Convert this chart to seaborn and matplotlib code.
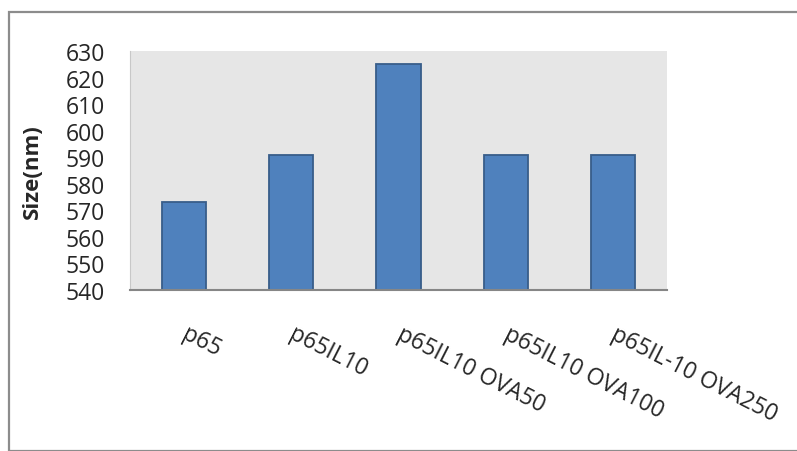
import matplotlib
matplotlib.use("Agg")
import matplotlib.pyplot as plt
import matplotlib.transforms as mtransforms
from matplotlib.patches import Rectangle
import seaborn as sns

# Particle size per formulation
categories = ["p65", "p65IL10", "p65IL10 OVA50", "p65IL10 OVA100", "p65IL-10 OVA250"]
sizes_nm = [573, 591, 625, 591, 591]
y_ticks = [540, 550, 560, 570, 580, 590, 600, 610, 620, 630]

sns.set_theme(style="white")
plt.rcParams["font.family"] = ["Open Sans", "DejaVu Sans"]

DPI = 100
fig = plt.figure(figsize=(7.97, 4.52), dpi=DPI)
W, H = 797, 452

# Outer chart frame (runs off the right and bottom edges)
fig.patches.append(Rectangle((9 / W, 0), 1.0, 1 - 13 / H, transform=fig.transFigure,
                             fill=False, edgecolor="#8c8c8c", linewidth=1.6, clip_on=False))

ax = fig.add_axes([130 / W, 1 - 291 / H, (667 - 130) / W, (291 - 52) / H])
ax.set_facecolor("#e6e6e6")

sns.barplot(x=categories, y=sizes_nm, color="#4f81bd", saturation=1, width=0.41,
            edgecolor="#385d8a", linewidth=1.3, ax=ax)

ax.set_ylim(540, 630)
ax.set_yticks(y_ticks)
ax.set_yticklabels([str(v) for v in y_ticks], fontsize=16.5)
ax.tick_params(axis="y", length=0, pad=18)
ax.tick_params(axis="x", length=0, pad=0)

ax.set_xlabel("")
ax.set_ylabel("Size(nm)", fontsize=16, fontweight="bold")
ax.yaxis.set_label_coords(-0.163, 0.5)

for side in ["top", "right"]:
    ax.spines[side].set_visible(False)
ax.spines["bottom"].set_color("#868686")
ax.spines["bottom"].set_linewidth(1.5)
ax.spines["left"].set_color("#c8c8c8")
ax.spines["left"].set_linewidth(0.8)

# Slanted category labels hanging from each tick
label_dx_px = 5
label_dy_px = 32
shift = mtransforms.ScaledTranslation(label_dx_px / DPI, -label_dy_px / DPI, fig.dpi_scale_trans)
for lbl in ax.get_xticklabels():
    lbl.set_fontsize(16.5)
    lbl.set_rotation(-27)
    lbl.set_rotation_mode("anchor")
    lbl.set_ha("left")
    lbl.set_va("top")
    lbl.set_transform(lbl.get_transform() + shift)

fig.savefig("out.png", dpi=DPI)
